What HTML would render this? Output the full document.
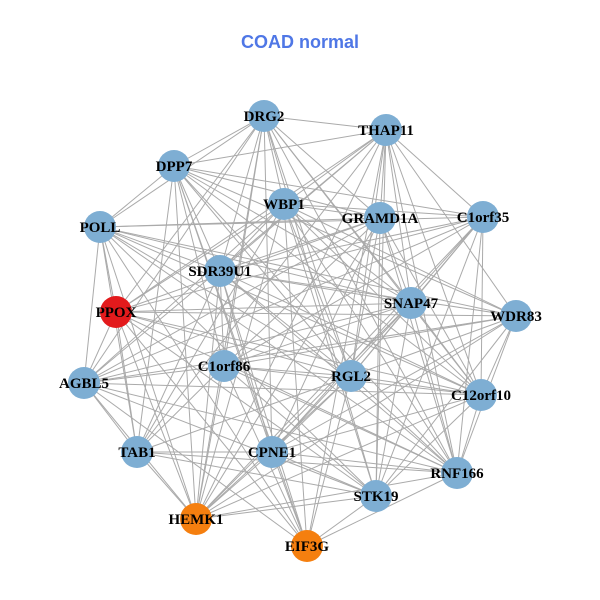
<!DOCTYPE html>
<html><head><meta charset="utf-8"><style>
html,body{margin:0;padding:0;background:#fff;width:600px;height:600px;overflow:hidden}
</style></head><body>
<svg id="g" width="600" height="600" xmlns="http://www.w3.org/2000/svg">
<rect width="600" height="600" fill="#fff"/>
<text x="300" y="48" text-anchor="middle" font-family="Liberation Sans, sans-serif" font-weight="bold" font-size="18" fill="#4f77e6">COAD normal</text>
<g id="e" stroke="#aaaaaa" stroke-width="1"></g>
<g id="n"></g>
<g id="l" font-family="Liberation Serif, serif" font-weight="bold" font-size="15" text-anchor="middle" fill="#000"></g>
</svg>
<script>
var N=[["DRG2",264,116,0],["THAP11",386,130,0],["DPP7",174,166,0],["WBP1",284,204,0],["GRAMD1A",380,218,0],["C1orf35",483,217,0],["POLL",100,227,0],["SDR39U1",220,271,0],["PPOX",116,312,1],["SNAP47",411,303,0],["WDR83",516,316,0],["C1orf86",224,366,0],["RGL2",351,376,0],["AGBL5",84,383,0],["C12orf10",481,395,0],["TAB1",137,452,0],["CPNE1",272,452,0],["RNF166",457,473,0],["STK19",376,496,0],["HEMK1",196,519,2],["EIF3G",307,546,2]];
var ns="http://www.w3.org/2000/svg",E=document.getElementById("e"),G=document.getElementById("n"),L=document.getElementById("l");
var skip=0;
for(var i=0;i<N.length;i++)for(var j=i+1;j<N.length;j++){skip++;if(skip%5==0)continue;
var ln=document.createElementNS(ns,"line");ln.setAttribute("x1",N[i][1]);ln.setAttribute("y1",N[i][2]);ln.setAttribute("x2",N[j][1]);ln.setAttribute("y2",N[j][2]);E.appendChild(ln);}
var cols=["#7eaed3","#e31a1c","#f57f0f"];
N.forEach(function(d){var c=document.createElementNS(ns,"circle");c.setAttribute("cx",d[1]);c.setAttribute("cy",d[2]);c.setAttribute("r",16);c.setAttribute("fill",cols[d[3]]);G.appendChild(c);
var t=document.createElementNS(ns,"text");t.setAttribute("x",d[1]);t.setAttribute("y",d[2]+5);t.textContent=d[0];L.appendChild(t);});
</script>
</body></html>
